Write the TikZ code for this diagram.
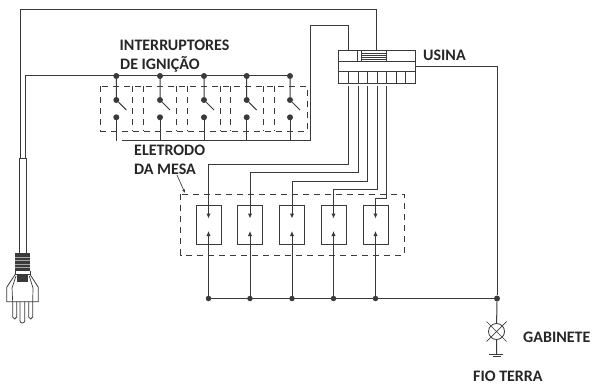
\documentclass[tikz,border=0pt]{standalone}
\usepackage{fontspec}
\setmainfont{Carlito}
\usetikzlibrary{arrows.meta}
\definecolor{wirec}{HTML}{3A3A3A}
\tikzset{
 wire/.style={draw=wirec,line width=1pt},
 lbl/.style={font=\fontsize{16}{17}\selectfont\bfseries,text=black!85,inner sep=0pt,anchor=west},
 dot/.style={circle,fill=wirec,inner sep=0pt,minimum size=6pt},
 dbox/.style={draw=wirec,line width=0.8pt,dash pattern=on 6pt off 5pt},
 ebox/.style={draw=wirec,line width=1pt,fill=none,inner sep=0pt,minimum width=25pt,minimum height=39pt},
 tipw/.style={wire,-{Latex[length=5pt,width=4.5pt]}}
}
\begin{document}
\begin{tikzpicture}[x=1pt,y=-1pt]
\useasboundingbox (0,0) rectangle (592,385);
% usina
\draw[wire] (338.7,50.7) rectangle (415.3,83.3);
\draw[wire] (338.7,61.7) -- (415.3,61.7) (338.7,71.7) -- (415.3,71.7);
\foreach \x in {348.3,358,367.7,377.3,386.7,396.3,405.7}{\draw[wire] (\x,71.7) -- (\x,83.3);}
\draw[wire] (357.7,50.7) -- (357.7,61.7);
\draw[wire] (361,50.7) rectangle (386.5,61.7);
\draw[wire,line width=.7pt] (361,53) -- (386.5,53) (361,55.3) -- (386.5,55.3) (361,57.5) -- (386.5,57.5) (361,59.6) -- (386.5,59.6);
\coordinate (us1) at (348.3,86);\coordinate (us2) at (358,86);\coordinate (us3) at (367.5,86);\coordinate (us4) at (377,86);\coordinate (us5) at (386.7,86);
% supply wires
\coordinate (cl) at (20,159);\coordinate (cr) at (25.5,159);
\draw[wire] (cl) |- (376,9.5) -- (376,50.7);
\draw[wire] (cr) |- (291,76);
\draw[wire] (348.3,50.7) |- (310,25.5) |- (121.7,141);
% switches
\draw[dbox] (100,86.5) rectangle (307,131);
\foreach \x in {132.7,143,176.7,187.7,220,230.7,263,274}{\draw[dbox] (\x,86.5) -- (\x,131);}
\foreach \n/\x in {1/116.3,2/160,3/204,4/246.7,5/290}{
 \node[dot] (a\n) at (\x,76) {};
 \node[dot] (b\n) at (\x,100) {};
 \node[dot] (c\n) at (\x,117.3) {};
 \coordinate (d\n) at (\x,141);
 \coordinate (e\n) at (\x+10,110);
 \draw[wire] (a\n) -- (b\n) -- (e\n);
 \draw[wire] (c\n) -- (d\n);
}
% electrodes
\draw[dbox] (180.7,194.3) rectangle (404.3,255);
\foreach \n/\x/\bx/\y/\u in {1/208.5/208.5/164.3/us1,2/250/250/172.7/us2,3/292/292/181.3/us3,4/333.5/333.5/189.3/us4,5/375.5/375.8/198.3/us5}{
 \node[ebox] (m\n) at (\bx,224.8) {};
 \coordinate (t\n) at (\x,218.5);
 \coordinate (u\n) at (\x,231);
 \node[dot,minimum size=5.5pt] (p\n) at (\x,298.5) {};
 \draw[tipw] (\u) |- (\x,\y) -- (t\n);
 \draw[tipw] (p\n) -- (u\n);
}
% bus, ground
\node[dot] (g) at (497,298.5) {};
\draw[wire] (p1) -- (g);
\draw[wire] (415.3,67) -| (g);
\node[circle,draw=wirec,line width=.8pt,inner sep=0pt,minimum size=16pt] (lamp) at (496.5,331.5) {};
\draw[wire,line width=.7pt] (486.5,321.5) -- (506.5,341.5) (506.5,321.5) -- (486.5,341.5);
\coordinate (gr) at (496.5,354);
\draw[wire] (g) -- (lamp) -- (gr);
\draw[wire] (489,354) -- (503,354);
\draw[wire] (492.5,356.5) -- (500.5,356.5);
% leader
\coordinate (l1) at (177,175);\coordinate (l2) at (185,193);
\draw[wire,line width=.7pt,-{Latex[length=3.5pt,width=3pt]}] (l1) -- (l2);
% plug
\draw[wire] (19,159) rectangle (26,253.5);
\fill[wirec] (15.3,253.3) rectangle (30,270.7);
\foreach \y in {257,260.5,264,267.5}{\draw[white!65!black,line width=.4pt] (15.3,\y) -- (30,\y);}
\fill[wirec] (17.3,274.3) rectangle (28.3,282.3);
\draw[wire,line width=.8pt] (15.3,270.7) -- (15.3,274.3) -- (30,274.3) -- (30,270.7);
\draw[wire,line width=.8pt] (15.3,274.3) -- (6.7,287.3) -- (6.7,301.7) -- (38.3,301.7) -- (38.3,287.3) -- (30,274.3);
\draw[wire,line width=.7pt] (16,276) -- (12,288) -- (12.7,301.7) (29.3,276) -- (33,288) -- (32.7,301.7);
\draw[wire,line width=.8pt,rounded corners=1.9pt] (12.7,301.7) -- (12.7,319) -- (16.7,319) -- (16.7,301.7);
\draw[wire,line width=.8pt,rounded corners=2.2pt] (20,301.7) -- (20,323) -- (24.7,323) -- (24.7,301.7);
\draw[wire,line width=.8pt,rounded corners=1.9pt] (28.7,301.7) -- (28.7,319) -- (32.7,319) -- (32.7,301.7);
% labels
\node[lbl] (t1) at (119.5,45) {INTERRUPTORES};
\node[lbl] (t2) at (120,64) {DE IGNIÇÃO};
\node[lbl] (t3) at (134,150) {ELETRODO};
\node[lbl] (t4) at (134,169) {DA MESA};
\node[lbl] (t5) at (423,55.5) {USINA};
\node[lbl] (t6) at (523,337) {GABINETE};
\node[lbl] (t7) at (473,376.5) {FIO TERRA};
\end{tikzpicture}
\end{document}
